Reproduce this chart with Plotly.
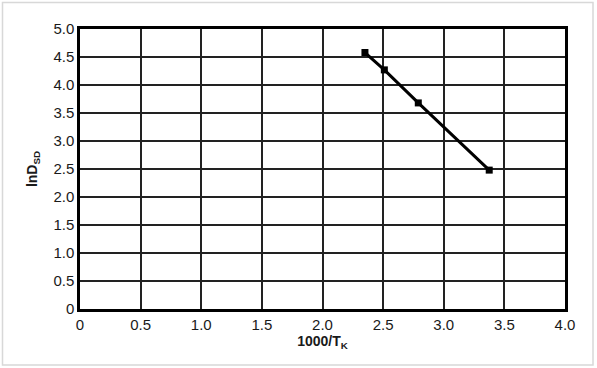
import plotly.graph_objects as go

x_vals = [2.35, 2.51, 2.79, 3.375]
y_vals = [4.58, 4.27, 3.68, 2.48]
x_ticks = [0, 0.5, 1.0, 1.5, 2.0, 2.5, 3.0, 3.5, 4.0]
x_labels = ["0", "0.5", "1.0", "1.5", "2.0", "2.5", "3.0", "3.5", "4.0"]
y_ticks = [0, 0.5, 1.0, 1.5, 2.0, 2.5, 3.0, 3.5, 4.0, 4.5, 5.0]
y_labels = ["0", "0.5", "1.0", "1.5", "2.0", "2.5", "3.0", "3.5", "4.0", "4.5", "5.0"]

W, H = 597, 368
L, R, T, B = 80, 32, 29, 59

fig = go.Figure()
fig.add_trace(go.Scatter(
    x=x_vals, y=y_vals, mode="lines+markers",
    line=dict(color="black", width=3),
    marker=dict(symbol="square", size=7, color="black"),
    showlegend=False,
))

font = dict(family="Liberation Sans, Arial, sans-serif", size=15, color="#1a1a1a")
fig.update_layout(
    width=W, height=H,
    margin=dict(l=L, r=R, t=T, b=B, autoexpand=False),
    paper_bgcolor="white", plot_bgcolor="white",
    font=font,
    xaxis=dict(range=[0, 4.0], tickvals=x_ticks, ticktext=x_labels,
               showgrid=True, gridcolor="#222", gridwidth=1.5,
               showline=True, linecolor="black", linewidth=2.5, mirror=True,
               zeroline=False, ticks="", ticklen=0,
               title=dict(text="<b>1000/T<sub>K</sub></b>", standoff=3, font=dict(size=14, color="#1a1a1a"))),
    yaxis=dict(range=[0, 5.0], tickvals=y_ticks, ticktext=y_labels,
               showgrid=True, gridcolor="#222", gridwidth=1.5,
               showline=True, linecolor="black", linewidth=2.5, mirror=True,
               zeroline=False, ticks="", ticklen=0,
               title=dict(text="<b>lnD<sub>SD</sub></b>", standoff=13, font=dict(size=14, color="#1a1a1a"))),
)

# light gray image frame (positions in image pixels)
pw, ph = W - L - R, H - T - B
def px2x(p): return (p - L) / pw
def px2y(p): return (H - B - p) / ph
fig.add_shape(type="rect", xref="paper", yref="paper",
              x0=px2x(2.5), x1=px2x(593), y0=px2y(365), y1=px2y(2.5),
              line=dict(color="#d8d8d8", width=1.5), layer="below")

fig.write_html("out.html", config={"displayModeBar": False},
               post_script="document.body.style.margin='0';")
